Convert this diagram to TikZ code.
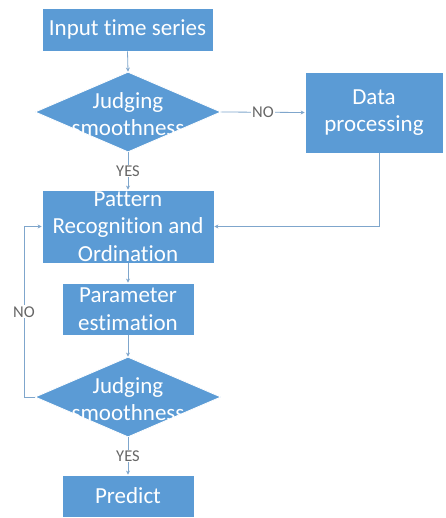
\documentclass[tikz,border=0pt]{standalone}
\usepackage{fontspec}
\setmainfont{Carlito}[RawFeature=-liga]
\usetikzlibrary{shapes.geometric,arrows.meta}
\definecolor{boxblue}{HTML}{5B9BD5}
\definecolor{lineblue}{HTML}{7FA6CC}
\definecolor{lblgray}{HTML}{666666}
\begin{document}
\begin{tikzpicture}[x=1pt,y=-1pt,
  procbox/.style={rectangle,fill=boxblue,draw=white,line width=0.8pt,inner sep=0pt,text=white,align=center,font=\fontsize{23}{27.5}\selectfont},
  decbox/.style={diamond,fill=boxblue,draw=white,line width=0.8pt,inner sep=0pt,minimum width=186pt,minimum height=80pt,aspect=2.325},
  dectext/.style={text=white,align=center,font=\fontsize{23}{27.5}\selectfont,inner sep=0pt},
  conn/.style={draw=lineblue,line width=0.8pt,-{Stealth[length=4pt,width=4pt]}},
  lbl/.style={fill=white,text=lblgray,font=\fontsize{16.5}{18}\selectfont,inner sep=1pt}]
\useasboundingbox (0,0) rectangle (445,518);
\fill[white] (0,0) rectangle (445,518);
\node[procbox,minimum width=171pt,minimum height=43pt] (inp) at (127.5,29.5) {Input time series};
\node[decbox] (d1) at (128,112) {};
\node[dectext] (d1t) at (128,114) {Judging\\smoothness};
\node[procbox,minimum width=138pt,minimum height=81pt] (dp) at (374,112.5) {Data\\processing};
\node[procbox,minimum width=172pt,minimum height=73pt] (pat) at (128,226.5) {Pattern\\Recognition and\\Ordination};
\node[procbox,minimum width=132pt,minimum height=52pt] (par) at (128,309) {Parameter\\estimation};
\node[decbox] (d2) at (128,397) {};
\node[dectext] (d2t) at (128,399) {Judging\\smoothness};
\node[procbox,minimum width=132pt,minimum height=42pt] (pred) at (128,496) {Predict};
\coordinate (loopx) at (24,397);
\coordinate (dpx) at (379,153);
\draw[conn] (inp.south) -- (d1.north);
\draw[conn] (d1.east) -- node[lbl] (no1) {NO} (dp.west);
\draw[conn] (d1.south) -- node[lbl,pos=0.5] (yes1) {YES} (pat.north);
\draw[conn] (dpx) |- (pat.east);
\draw[conn] (pat.south) -- (par.north);
\draw[conn] (par.south) -- (d2.north);
\draw[conn] (d2.south) -- node[lbl] (yes2) {YES} (pred.north);
\draw[conn] (d2.west) -- (loopx) |- node[lbl,pos=0.25] (no2) {NO} (pat.west);
\end{tikzpicture}
\end{document}
